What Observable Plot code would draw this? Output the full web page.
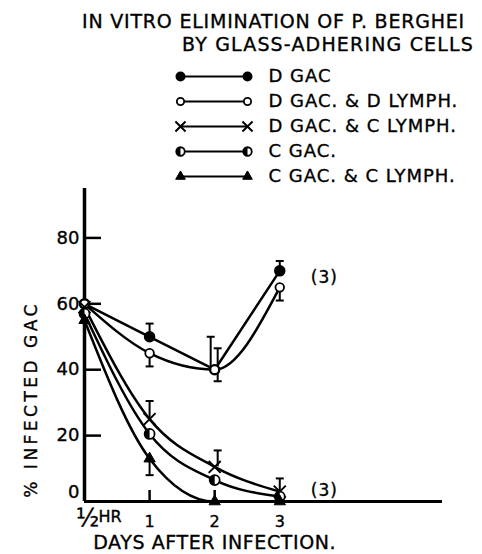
<!DOCTYPE html>
<html><head><meta charset="utf-8">
<script src="https://cdn.jsdelivr.net/npm/d3@7"></script>
<script src="https://cdn.jsdelivr.net/npm/@observablehq/plot@0.6"></script>
<style>
body{margin:0;background:#fff;}
#wrap{position:relative;width:482px;height:554px;overflow:hidden;font-family:"DejaVu Sans";color:#000;background:#fff;}
.t{position:absolute;white-space:nowrap;line-height:1;-webkit-text-stroke:0.35px #000;}
#t1{left:82px;top:12px;font-size:19px;}
#t2{left:182px;top:35px;font-size:19px;}
#leg{position:absolute;left:0;top:60px;}
#main{position:absolute;left:0;top:180px;}
svg text{stroke:#000;stroke-width:0.35px;}
</style></head><body>
<div id="wrap">
<div class="t" id="t1"></div>
<div class="t" id="t2"></div>
<div id="main"></div><div id="leg"></div>
</div>
<script>
// ---- data ----
const titleLines = ["IN VITRO ELIMINATION OF P. BERGHEI", "BY GLASS-ADHERING CELLS"];
const seriesNames = ["D GAC", "D GAC. & D LYMPH.", "D GAC. & C LYMPH.", "C GAC.", "C GAC. & C LYMPH."];
const days = [0, 1, 2, 3];
const dGac = [60, 50, 40, 70];
const dGacDLymph = [60, 45, 40, 65];
const dGacCLymph = [59, 25, 10.5, 3];
const cGac = [57, 20.5, 6.5, 1.5];
const cGacCLymph = [55, 13, 0, 0];

const errSeries = ["D GAC", "D GAC", "D GAC", "D GAC. & D LYMPH.", "D GAC. & D LYMPH.", "D GAC. & D LYMPH.", "D GAC. & D LYMPH.", "D GAC. & C LYMPH.", "D GAC. & C LYMPH.", "D GAC. & C LYMPH.", "C GAC. & C LYMPH."];
const errDay = [1, 2, 3, 1, 2, 2, 3, 1, 2, 3, 1];
const errFrom = [50, 40, 70, 45, 40, 40, 65, 25, 10.5, 3, 13];
const errTo = [54, 50, 73, 41, 46.5, 36.5, 61, 30.5, 15.5, 7, 8];

const nLabelDays = [3, 3];
const nLabelValues = [68, 3.3];
const nLabelTexts = ["(3)", "(3)"];

const xTickValues = [1, 2, 3];
const xFirstTick = ["½", "HR"];
const yTickValues = [20, 40, 60, 80];
const xLabel = "DAYS AFTER INFECTION.";
const yLabel = "% INFECTED GAC";

// ---- build tables ----
const seriesValues = [dGac, dGacDLymph, dGacCLymph, cGac, cGacCLymph];
const rows = [];
seriesNames.forEach((s, k) => seriesValues[k].forEach((v, i) => rows.push({series: s, day: days[i], value: v})));
const errs = errSeries.map((s, i) => ({series: s, day: errDay[i], from: errFrom[i], to: errTo[i]}));
const notes = nLabelTexts.map((t, i) => ({day: nLabelDays[i], value: nLabelValues[i], text: t}));

// custom symbols
const halfDisc = {draw(ctx, size) {const r = Math.sqrt(size / Math.PI); ctx.moveTo(0, -r); ctx.arc(0, 0, r, -Math.PI / 2, Math.PI / 2, true); ctx.closePath();}};
const capSym = {draw(ctx, size) {const r = Math.sqrt(size / Math.PI); ctx.moveTo(-r, 0); ctx.lineTo(r, 0);}};

function markers(name, data, x, y, big) {
  const k = big ? 1 : 0.85;
  switch (name) {
    case "D GAC": return [Plot.dot(data, {x, y, r: 5 * k, fill: "black", stroke: "black"})];
    case "D GAC. & D LYMPH.": return [Plot.dot(data, {x, y, r: 4.3 * k, fill: "white", stroke: "black", strokeWidth: 1.8})];
    case "D GAC. & C LYMPH.": return [Plot.dot(data, {x, y, r: 5.5 * k, symbol: "times", stroke: "black", strokeWidth: 2})];
    case "C GAC.": return [Plot.dot(data, {x, y, r: 5 * k, fill: "white", stroke: "black", strokeWidth: 1.8}), Plot.dot(data, {x, y, r: 5 * k, symbol: halfDisc, fill: "black"})];
    default: return [Plot.dot(data, {x, y, r: 4.2 * k, symbol: "triangle", fill: "black", stroke: "black", strokeWidth: 1})];
  }
}

// ---- title ----
function fit(el, text, target) {
  el.textContent = text;
  const w = el.getBoundingClientRect().width;
  el.style.letterSpacing = ((target - w) / text.length) + "px";
}
fit(document.getElementById("t1"), titleLines[0], 383);
fit(document.getElementById("t2"), titleLines[1], 292);

// ---- legend ----
const legend = Plot.plot({
  width: 482, height: 130, marginLeft: 180, marginRight: 235, marginTop: 14, marginBottom: 13,
  style: {fontFamily: "DejaVu Sans", background: "transparent", overflow: "visible"},
  x: {domain: [0, 1], axis: null},
  y: {type: "point", domain: seriesNames, padding: 0, axis: null},
  marks: [
    Plot.ruleY(seriesNames, {y: d => d, x1: 0, x2: 1, stroke: "black", strokeWidth: 2}),
    ...seriesNames.flatMap(n => [...markers(n, [n], 0, d => d, false), ...markers(n, [n], 1, d => d, false)]),
    Plot.text(seriesNames, {x: 1, y: d => d, text: d => d, dx: 21, textAnchor: "start", fontSize: 18, fill: "black"})
  ]
});
d3.select(legend).selectAll("text").attr("letter-spacing", "1px");
document.getElementById("leg").append(legend);

// ---- main chart ----
const main = Plot.plot({
  width: 482, height: 374, marginTop: 8, marginBottom: 53, marginLeft: 84, marginRight: 40,
  style: {fontFamily: "DejaVu Sans", background: "transparent", overflow: "visible", color: "black"},
  x: {domain: [0, 5.5]},
  y: {domain: [0, 95]},
  marks: [
    Plot.axisY({ticks: yTickValues, tickSize: -17, tickPadding: 22, strokeWidth: 2.5, fontSize: 18, label: null}),
    Plot.axisY({ticks: [0], tickSize: 0, tickPadding: 5, dy: -9, fontSize: 18, label: null}),
    Plot.axisX({ticks: xTickValues, tickSize: -11, tickPadding: 25, tickFormat: d => String(d), strokeWidth: 2.5, fontSize: 16, label: null}),
    Plot.text([xFirstTick[0]], {x: 0, y: 0, text: d => d, dx: 3, dy: 17, fontSize: 24, fill: "black"}),
    Plot.text([xFirstTick[1]], {x: 0, y: 0, text: d => d, dx: 14, dy: 15, textAnchor: "start", fontSize: 16, fill: "black"}),
    Plot.ruleX([0], {strokeWidth: 3.5, stroke: "black"}),
    Plot.ruleY([0], {strokeWidth: 3, stroke: "black"}),
    // curves
    Plot.line(rows.filter(d => d.series === "D GAC"), {x: "day", y: "value", stroke: "black", strokeWidth: 2.5}),
    Plot.line(rows.filter(d => d.series !== "D GAC"), {x: "day", y: "value", z: "series", curve: "monotone-x", stroke: "black", strokeWidth: 2.5}),
    // error bars
    Plot.ruleX(errs.filter(d => d.day !== 2), {x: "day", y1: "from", y2: "to", stroke: "black", strokeWidth: 2}),
    Plot.dot(errs.filter(d => d.day !== 2), {x: "day", y: "to", r: 4, symbol: capSym, stroke: "black", strokeWidth: 2}),
    Plot.ruleX(errs.filter(d => d.day === 2 && d.series === "D GAC"), {x: "day", y1: "from", y2: "to", dx: -4, stroke: "black", strokeWidth: 2}),
    Plot.dot(errs.filter(d => d.day === 2 && d.series === "D GAC"), {x: "day", y: "to", dx: -4, r: 4, symbol: capSym, stroke: "black", strokeWidth: 2}),
    Plot.ruleX(errs.filter(d => d.day === 2 && d.series !== "D GAC"), {x: "day", y1: "from", y2: "to", dx: 3, stroke: "black", strokeWidth: 2}),
    Plot.dot(errs.filter(d => d.day === 2 && d.series !== "D GAC"), {x: "day", y: "to", dx: 3, r: 4, symbol: capSym, stroke: "black", strokeWidth: 2}),
    // markers
    ...seriesNames.flatMap(n => markers(n, rows.filter(d => d.series === n), "day", "value", true)),
    // annotations
    Plot.text(notes, {x: "day", y: "value", text: "text", dx: 31, textAnchor: "start", fontSize: 17, fill: "black"}),
    Plot.text([xLabel], {x: 2.0, y: 0, text: d => d, dy: 41, fontSize: 19, fill: "black"}),
    Plot.text([yLabel], {x: 0, y: 31, text: d => d, dx: -53, rotate: -90, fontSize: 17, fill: "black"})
  ]
});
d3.select(main).selectAll("text").each(function () {
  const t = this.textContent;
  if (t === xLabel) this.setAttribute("letter-spacing", "0.6px");
  if (t === yLabel) this.setAttribute("letter-spacing", "3.5px");
  if (t === "(3)") this.setAttribute("letter-spacing", "1px");
});
document.getElementById("main").append(main);
</script>
</body></html>
